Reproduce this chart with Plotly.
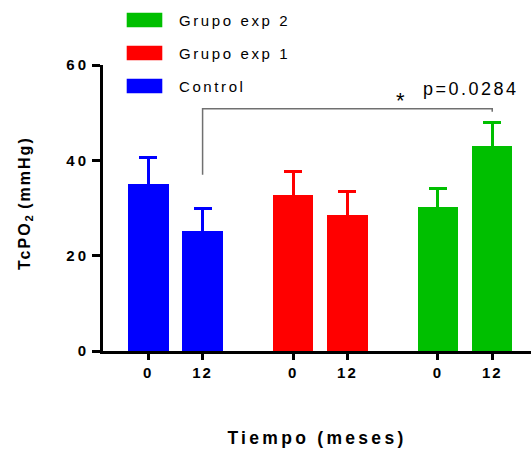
import plotly.graph_objects as go

# ---- data ----
groups = ["Control", "Grupo exp 1", "Grupo exp 2"]
times = ["0", "12"]
means = {
    "Control": [35.0, 25.2],
    "Grupo exp 1": [32.8, 28.6],
    "Grupo exp 2": [30.3, 43.1],
}
errors = {
    "Control": [5.6, 4.8],
    "Grupo exp 1": [4.9, 4.9],
    "Grupo exp 2": [3.8, 4.9],
}
colors = {"Control": "#0000FF", "Grupo exp 1": "#FF0000", "Grupo exp 2": "#00BF00"}
y_ticks = [0, 20, 40, 60]
p_label = "p=0.0284"
x_title = "Tiempo (meses)"
y_title_main, y_title_sub, y_title_unit = "TcPO", "2", " (mmHg)"

FONT = "Arial, Liberation Sans, sans-serif"
W, H = 531, 450
ML, MR, MT, MB = 103, 0, 65, 99

GROUP_STEP = 2.667
BAR_W = 0.746


def sp(text, px):
    return f'<span style="letter-spacing:{px}px">{text}</span>'


def px2paper_x(px):
    return (px - ML) / (W - ML - MR)


def px2paper_y(py):
    return (H - MB - py) / (H - MT - MB)


fig = go.Figure()
tickvals, ticktext = [], []
for gi, g in enumerate(groups):
    xs = [gi * GROUP_STEP + ti for ti in range(len(times))]
    tickvals += xs
    ticktext += [f"<b>{sp(t, 2)}</b>" for t in times]
    # symmetric error bars: the lower half is hidden inside the same-coloured bar
    fig.add_trace(go.Bar(
        x=xs, y=means[g], width=BAR_W, name=g,
        marker=dict(color=colors[g], line=dict(width=0)),
        error_y=dict(type="data", symmetric=True, array=errors[g],
                     color=colors[g], thickness=3, width=9),
        showlegend=False,
    ))

# significance bracket between Control 12 and Grupo exp 2 at 12
xa = 0 * GROUP_STEP + 1
xb = 2 * GROUP_STEP + 1
fig.add_shape(type="path",
              path=f"M {xa},37.0 L {xa},50.8 L {xb},50.8 L {xb},50.2",
              line=dict(color="#707070", width=1.5), xref="x", yref="y")
fig.add_annotation(x=px2paper_x(400), y=px2paper_y(101), xref="paper", yref="paper",
                   text="*", showarrow=False,
                   font=dict(family=FONT, size=22, color="black"),
                   xanchor="center", yanchor="middle")
fig.add_annotation(x=px2paper_x(421), y=px2paper_y(89), xref="paper", yref="paper",
                   text=sp(p_label, 2.5), showarrow=False,
                   font=dict(family=FONT, size=18, color="black"),
                   xanchor="left", yanchor="middle")

# y-axis title (rotated annotation)
fig.add_annotation(x=px2paper_x(25), y=px2paper_y(203), xref="paper", yref="paper",
                   text="<b>" + sp(y_title_main, 2) + f"<sub>{y_title_sub}</sub>"
                        + sp(y_title_unit, 2) + "</b>",
                   textangle=-90, showarrow=False,
                   font=dict(family=FONT, size=16, color="black"),
                   xanchor="center", yanchor="middle")

# custom legend
legend_rows = [("Grupo exp 2", 20), ("Grupo exp 1", 53), ("Control", 86)]
for name, cy in legend_rows:
    fig.add_shape(type="rect", xref="paper", yref="paper",
                  x0=px2paper_x(126.7), x1=px2paper_x(162.3),
                  y0=px2paper_y(cy - 7.3), y1=px2paper_y(cy + 7.3),
                  fillcolor=colors[name], line=dict(width=0))
    fig.add_annotation(x=px2paper_x(177), y=px2paper_y(cy), xref="paper", yref="paper",
                       text=sp(name, 2.6), showarrow=False,
                       font=dict(family=FONT, size=15, color="black"),
                       xanchor="left", yanchor="middle")

fig.update_layout(
    width=W, height=H,
    margin=dict(l=ML, r=MR, t=MT, b=MB, autoexpand=False),
    plot_bgcolor="white", paper_bgcolor="white",
    font=dict(family=FONT, color="black"),
    bargap=0, showlegend=False,
)
fig.update_xaxes(
    range=[-0.834, 7.048], tickvals=tickvals, ticktext=ticktext,
    showline=True, linecolor="black", linewidth=3,
    ticks="outside", ticklen=6, tickwidth=3, tickcolor="black",
    tickfont=dict(family=FONT, size=15, color="black"),
    showgrid=False, zeroline=False,
    title=dict(text="<b>" + sp(x_title, 3.3) + "</b>",
               font=dict(family=FONT, size=17.5, color="black"), standoff=52),
)
fig.update_yaxes(
    range=[0, 60], tickvals=y_ticks, ticktext=[f"<b>{sp(v, 3)}</b>" for v in y_ticks],
    showline=True, linecolor="black", linewidth=3,
    ticks="outside", ticklen=8, tickwidth=3, tickcolor="black",
    tickfont=dict(family=FONT, size=15, color="black"),
    showgrid=False, zeroline=False,
)

fig.write_html("out.html")
